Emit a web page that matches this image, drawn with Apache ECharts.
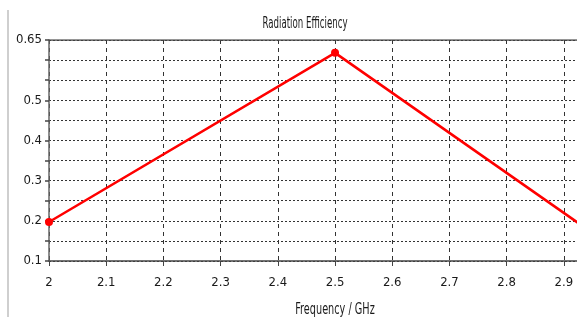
<!DOCTYPE html>
<html>
<head>
<meta charset="utf-8">
<script src="https://cdn.jsdelivr.net/npm/echarts@6/dist/echarts.min.js"></script>
<style>
  html, body { margin: 0; padding: 0; background: #fff; }
  #chart { width: 577px; height: 317px; }
</style>
</head>
<body>
<div id="chart"></div>
<script>
// 频率 (GHz) 和辐射效率
var freq = [2, 2.5, 3];
var efficiency = [0.197, 0.618, 0.12];
var yLabels = [0.1, 0.2, 0.3, 0.4, 0.5, 0.65];

var fontName = "'DejaVu Sans Condensed', sans-serif";

var points = [];
for (var i = 0; i < freq.length; i++) {
  points.push([freq[i], efficiency[i]]);
}

var myChart = echarts.init(document.getElementById('chart'), null, {renderer: 'canvas'});

myChart.setOption({
  animation: false,
  backgroundColor: '#fff',
  grid: {left: 49, top: 40, right: 0, bottom: 56, show: false},
  graphic: [
    {type: 'rect', shape: {x: 7, y: 10, width: 2, height: 307}, style: {fill: '#cfcfcf'}},
    // 标题
    {type: 'text', x: 305, y: 16, scaleX: 0.6,
     style: {text: 'Radiation Efficiency', font: '16px ' + fontName, fill: '#1a1a1a', align: 'center', verticalAlign: 'top'}},
    // x轴名称
    {type: 'text', x: 335, y: 303, scaleX: 0.72,
     style: {text: 'Frequency / GHz', font: '15px ' + fontName, fill: '#1a1a1a', align: 'center', verticalAlign: 'top'}}
  ],
  xAxis: {
    type: 'value',
    min: 2,
    max: 2.923,
    interval: 0.1,
    axisLine: {show: true, onZero: false, lineStyle: {color: '#444', width: 1.5}},
    axisTick: {show: true, length: 5, lineStyle: {color: '#444'}},
    axisLabel: {
      fontFamily: fontName, fontSize: 13, color: '#1a1a1a', margin: 15,
      showMaxLabel: false,
      formatter: function (v) { return +v.toFixed(1) + ''; }
    },
    splitLine: {show: true, lineStyle: {color: '#333', type: [4, 4], width: 1}}
  },
  yAxis: {
    type: 'value',
    min: 0.1,
    max: 0.65,
    interval: 0.05,
    axisLine: {show: true, lineStyle: {color: '#666', width: 1.5}},
    axisTick: {show: true, length: 4, lineStyle: {color: '#444', width: 1.5}},
    axisLabel: {
      fontFamily: fontName, fontSize: 13, color: '#1a1a1a', margin: 7,
      showMaxLabel: true,
      formatter: function (v) {
        var r = Math.round(v * 100) / 100;
        return yLabels.indexOf(r) >= 0 ? r + '' : '';
      }
    },
    splitLine: {show: true, lineStyle: {color: '#333', type: [2, 2], width: 1}}
  },
  series: [{
    type: 'line',
    data: points,
    clip: true,
    symbol: 'circle',
    symbolSize: 8,
    itemStyle: {color: '#ff0000'},
    lineStyle: {color: '#ff0000', width: 2.5}
  }, {
    // 顶部边框
    type: 'line',
    data: [[2, 0.65], [2.923, 0.65]],
    symbol: 'none',
    silent: true,
    lineStyle: {color: '#444', width: 1.5}
  }]
});
</script>
</body>
</html>
